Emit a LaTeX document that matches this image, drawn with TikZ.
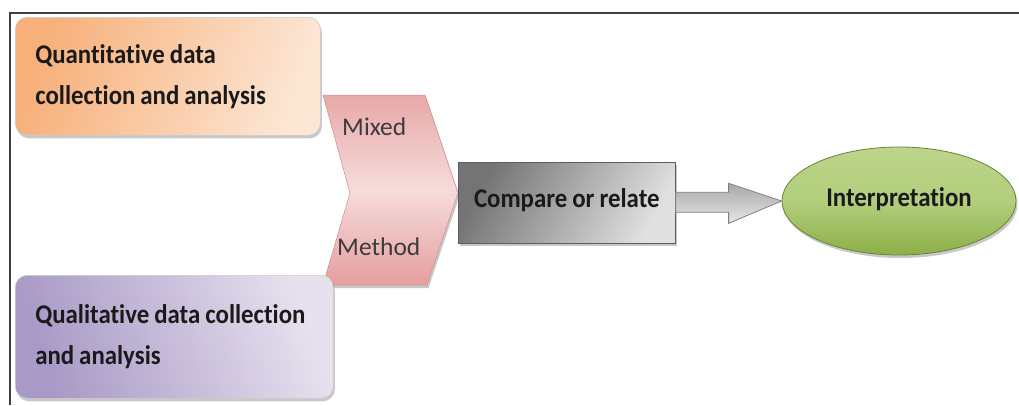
\documentclass[tikz,border=0pt]{standalone}
\usepackage{fontspec}
\setmainfont{Carlito}
\newfontfamily\bfont{Carlito}[FakeStretch=0.92, RawFeature={-liga}]
\newcommand\tightsp{\spaceskip=5pt plus 1pt\relax}
\usetikzlibrary{shapes.geometric,shadows,calc}
\definecolor{frameC}{HTML}{3F3F3F}
\definecolor{orA}{HTML}{F7B07A}
\definecolor{orB}{HTML}{FCE6D4}
\definecolor{puA}{HTML}{A899C6}
\definecolor{puB}{HTML}{E7E1EE}
\definecolor{pkA}{HTML}{E59E9E}
\definecolor{pkB}{HTML}{F6DCDC}
\definecolor{grA}{HTML}{747474}
\definecolor{grB}{HTML}{E0E0E0}
\definecolor{gnA}{HTML}{8CAF48}
\definecolor{gnB}{HTML}{BCD58A}
\definecolor{arA}{HTML}{A8A8A8}
\definecolor{arB}{HTML}{E6E6E6}
\definecolor{txt}{HTML}{1A1A1A}
\tikzset{
  frameline/.style={draw=frameC, line width=2pt},
  softshadow/.style={drop shadow={shadow xshift=1.5pt, shadow yshift=-3pt, opacity=0.3, fill=black!70}},
  roundbox/.style={rectangle, rounded corners=12pt, draw=white!80!black, line width=0.6pt, softshadow,
    align=left, inner xsep=20pt, inner ysep=0pt, text=txt,
    font=\bfont\bfseries\fontsize{27}{41}\selectfont},
  quanbox/.style={roundbox, left color=orA, right color=orB, shading angle=70},
  qualbox/.style={roundbox, left color=puA, right color=puB, shading angle=110},
  chevron/.style={top color=pkA!90, bottom color=pkA, middle color=pkB, draw=pkA!90!black, line width=0.5pt, softshadow},
  chevlabel/.style={inner sep=0pt, text=txt!85, font=\fontsize{25.5}{30}\selectfont},
  cmpbox/.style={rectangle, draw=grA!80!black, line width=0.6pt, left color=grA, right color=grB, shading angle=60,
    softshadow, inner sep=0pt, text=txt, font=\bfont\bfseries\fontsize{27}{30}\selectfont},
  blockarrow/.style={left color=arA, right color=arB, shading angle=0, draw=gray, line width=0.8pt},
  interp/.style={ellipse, top color=gnB, bottom color=gnA, middle color=gnB!80!gnA, draw=gnA!75!black, line width=0.8pt,
    softshadow, inner sep=0pt, text=txt, font=\bfont\bfseries\fontsize{27}{30}\selectfont}
}
\begin{document}
\begin{tikzpicture}[x=1pt,y=-1pt]
\useasboundingbox (0,0) rectangle (1019,405);
\fill[white] (0,0) rectangle (1019,405);
\draw[frameline] (10,405) -- (10,13) -- (1019,13);
% chevron
\path[chevron] (323,95) -- (425,95) -- (458,193) -- (427,285) -- (323,285) -- (350,193) -- cycle;
\node[chevlabel, anchor=base west] (mixed) at (342,135) {Mixed};
\node[chevlabel, anchor=base west] (method) at (337,255) {Method};
% boxes
\node[quanbox, text width=265pt, minimum width=305pt, minimum height=118pt, anchor=north west] (quan) at (15,17)
  {\tightsp\mbox{Quantitative data}\\\mbox{collection and analysis}};
\node[qualbox, text width=278pt, minimum width=318pt, minimum height=123pt, anchor=north west] (qual) at (15,275)
  {\tightsp\mbox{Qualitative data collection}\\\mbox{and analysis}};
\node[cmpbox, minimum width=217pt, minimum height=81pt, anchor=north west] (cmp) at (458,162)
  {\raisebox{9.5pt}{\tightsp Compare or relate}};
\node[interp, minimum width=234pt, minimum height=108pt] (int) at (899,201)
  {\raisebox{8pt}{Interpretation}};
% block arrow
\path[blockarrow] ($(cmp.east)+(0,-10.5)$) -- ++(53,0) -- ++(0,-9) -- (int.west) -- ($(cmp.east)+(53,20.5)$)
  -- ++(0,-11) -- ($(cmp.east)+(0,9.5)$) -- cycle;
\end{tikzpicture}
\end{document}
